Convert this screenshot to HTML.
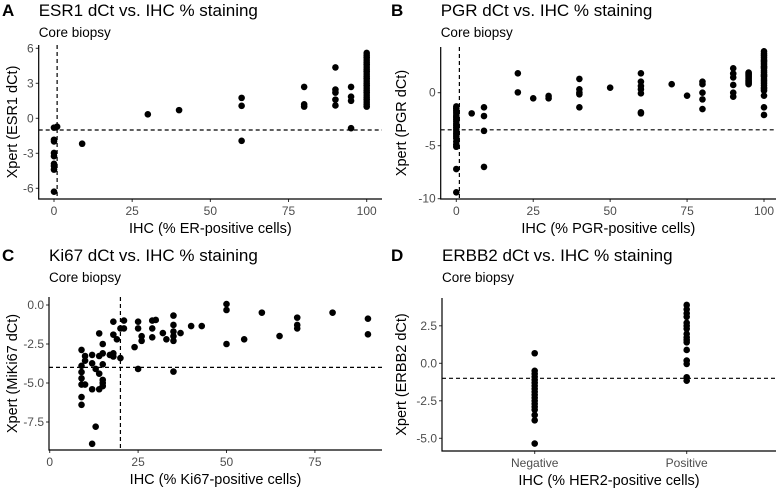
<!DOCTYPE html>
<html><head><meta charset="utf-8"><style>
html,body{margin:0;padding:0;background:#fff;}
svg{display:block;font-family:"Liberation Sans",Arial,sans-serif;}
</style></head><body>
<svg id="chart" width="778" height="490" viewBox="0 0 778 490"></svg>
<script>
// ---- Panel A data (ESR1) ----
const aX = [0,0,0,0,0,0,0,0,0,1,9,30,40,60,60,60,80,80,80,90,90,90,90,90,95,95,95,95,
  100,100,100,100,100,100,100,100,100,100,100,100,100,100,100,100,100,100,100,100,100,100,100,100];
const aY = [-0.8,-1.84,-1.98,-2.97,-3.25,-3.9,-4.1,-4.4,-6.29,-0.72,-2.18,0.34,0.7,1.75,1.07,-1.93,2.69,1.2,1.0,4.36,2.46,2.2,1.6,1.1,2.69,1.85,1.5,-0.85,
  5.6,5.4,5.2,5.0,4.8,4.6,4.4,4.2,4.0,3.8,3.6,3.4,3.2,3.0,2.8,2.6,2.4,2.2,2.0,1.8,1.6,1.4,1.2,1.0];
const aXTicks = [0,25,50,75,100];
const aYTicks = [-6,-3,0,3,6];
// ---- Panel B data (PGR) ----
const bX = [0,0,0,0,0,0,0,0,0,0,0,0,0,0,0,0,0,0,0,0,0,5,9,9,9,9,20,20,25,30,30,40,40,40,40,40,50,60,60,60,60,60,60,60,70,75,80,80,80,80,80,90,90,90,90,90,90,
  95,95,95,95,95,95,95,95,95,95,95,95,
  100,100,100,100,100,100,100,100,100,100,100,100,100,100,100,100,100,100,100,100,100,100,100,100,100,100];
const bY = [-1.3,-1.5,-1.7,-1.9,-2.1,-2.3,-2.5,-2.7,-2.9,-3.1,-3.3,-3.5,-3.7,-3.9,-4.1,-4.3,-4.6,-4.9,-5.1,-7.2,-9.4,-1.95,-1.38,-2.2,-3.6,-7.0,1.83,0.03,-0.53,-0.31,-0.53,1.3,0.32,0.0,-0.15,-1.38,0.47,1.83,1.04,0.63,0.32,-0.06,-1.85,-1.95,0.8,-0.28,1.04,0.8,0.0,-0.63,-1.54,2.3,1.8,1.44,0.73,0.0,-0.38,
  1.9,1.8,1.7,1.6,1.5,1.4,1.3,1.2,1.1,1.0,0.9,0.8,
  3.9,3.7,3.5,3.3,3.1,2.9,2.7,2.5,2.3,2.1,1.9,1.7,1.5,1.3,1.1,0.9,0.7,0.5,0.4,0.2,-0.28,-1.38,-2.1,3.0,2.4,1.6];
const bXTicks = [0,25,50,75,100];
const bYTicks = [-10,-5,0];
// ---- Panel C data (Ki67) ----
const cX = [9,9,9,9,9,9,9,10,10,10,12,12,12,13,13,12,14,14,14,14,15,15,15,15,15,15,17,18,18,18,18,19,20,20,21,21,24,25,25,25,26,26,29,29,29,30,32,33,35,35,35,35,35,35,37,40,43,50,50,50,55,60,65,70,70,70,80,90,90];
const cY = [-2.88,-3.9,-4.3,-4.7,-5.1,-5.9,-6.4,-3.27,-3.57,-5.1,-3.2,-3.74,-5.4,-4.1,-7.8,-8.9,-1.82,-3.27,-4.4,-5.4,-2.5,-3.1,-3.8,-4.8,-5.0,-5.2,-3.2,-1.07,-1.9,-3.1,-3.3,-2.2,-1.5,-3.4,-1.5,-1.0,-2.7,-1.07,-1.5,-4.1,-2.0,-2.3,-1.0,-1.5,-2.07,-0.96,-1.8,-2.2,-0.68,-1.28,-1.7,-2.0,-2.3,-4.27,-1.8,-1.35,-1.35,0.06,-0.32,-2.5,-2.2,-0.49,-1.99,-0.81,-1.28,-1.5,-0.49,-0.88,-1.88];
const cXTicks = [0,25,50,75];
const cYTicks = [-7.5,-5.0,-2.5,0.0];
// ---- Panel D data (ERBB2) ----
const dCats = ["Negative","Positive"];
const dX = ["Negative","Negative","Negative","Negative","Negative","Negative","Negative","Negative","Negative","Negative","Negative","Negative","Negative","Negative","Negative","Negative","Negative","Negative",
  "Positive","Positive","Positive","Positive","Positive","Positive","Positive","Positive","Positive","Positive","Positive","Positive","Positive","Positive","Positive","Positive"];
const dY = [0.67,-0.5,-0.7,-0.9,-1.1,-1.3,-1.5,-1.7,-1.9,-2.1,-2.3,-2.5,-2.7,-2.9,-3.1,-3.45,-3.8,-5.35,
  3.89,3.6,3.33,3.1,2.7,2.5,2.3,1.96,1.73,1.55,1.4,0.89,0.18,-0.04,-0.93,-1.16];
const dYTicks = [-5.0,-2.5,0.0,2.5];

const NS = "http://www.w3.org/2000/svg";
const svg = document.getElementById("chart");
function mk(tag, attrs, parent){ const e=document.createElementNS(NS,tag); for(const k in attrs) e.setAttribute(k,attrs[k]); (parent||svg).appendChild(e); return e; }
function lin(d0,d1,r0,r1){ return v => r0 + (v-d0)*(r1-r0)/(d1-d0); }

function panel(p){
  const g = mk("g",{});
  
  
  const lab = mk("text",{x:p.ox+2,y:p.oy+16,"font-size":"17","font-weight":"bold",fill:"#000"},g);
  lab.textContent=p.letter;
  
  
  const t = mk("text",{x:p.L,y:p.oy+16,"font-size":"17",fill:"#000"},g);
  t.textContent=p.title;
  
  
  const st = mk("text",{x:p.L,y:p.oy+37,"font-size":"13.5",fill:"#000"},g);
  st.textContent="Core biopsy";
  
  
  p.yTicks.forEach(v=>{
    const y=p.sy(v);
    const tk=mk("line",{x1:p.L-3,x2:p.L,y1:y,y2:y,stroke:"#333","stroke-width":1},g);
    
    
    const tl=mk("text",{x:p.L-5,y:y+4,"font-size":"12","text-anchor":"end",fill:"#4d4d4d"},g);
    tl.textContent = p.yFmt(v);
    
    
  });
  p.xTicks.forEach(v=>{
    const x=p.sx(v);
    const tk=mk("line",{x1:x,x2:x,y1:p.B,y2:p.B+3,stroke:"#333","stroke-width":1},g);
    
    
    const tl=mk("text",{x:x,y:p.B+16,"font-size":"12","text-anchor":"middle",fill:"#4d4d4d"},g);
    tl.textContent = String(v);
    
    
  });
  if(p.vline!==undefined){
    const vl=mk("line",{x1:p.sx(p.vline),x2:p.sx(p.vline),y1:p.T,y2:p.B,stroke:"#000","stroke-width":1.2,"stroke-dasharray":"4,3"},g);
    
    
  }
  const hl=mk("line",{x1:p.L,x2:p.R,y1:p.sy(p.hline),y2:p.sy(p.hline),stroke:"#000","stroke-width":1.2,"stroke-dasharray":"4,3"},g);
  
  
  const n=Math.min(p.xs.length,p.ys.length);
  for(let i=0;i<n;i++){
    const c=mk("circle",{cx:p.sx(p.xs[i]),cy:p.sy(p.ys[i]),r:3.3,fill:"#000"},g);
    
    
  }
  const ax=mk("path",{d:`M${p.L},${p.T}V${p.B}H${p.R}`,fill:"none",stroke:"#000","stroke-width":1.2},g);
  
  
  const xt=mk("text",{x:(p.L+p.R)/2,y:p.B+34,"font-size":"14.5","text-anchor":"middle",fill:"#000"},g);
  xt.textContent=p.xTitle;
  
  
  const yc=(p.T+p.B)/2, yx=p.ox+17;
  const yt=mk("text",{x:yx,y:yc,"font-size":"14.5","text-anchor":"middle",fill:"#000",transform:`rotate(-90 ${yx} ${yc})`},g);
  yt.textContent=p.yTitle;
  
  
}

const fmtInt = v => String(v);
const fmt1 = v => v.toFixed(1);

panel({id:"panel-esr1",letter:"A",ox:0,oy:0,title:"ESR1 dCt vs. IHC % staining",L:38.7,R:382,T:45,B:199,
  sx:lin(0,100,54,366.7), sy:lin(0,6,118.3,48.3), xs:aX, ys:aY, xTicks:aXTicks, yTicks:aYTicks, yFmt:fmtInt,
  vline:1, hline:-1, xTitle:"IHC (% ER-positive cells)", yTitle:"Xpert (ESR1 dCt)"});
panel({id:"panel-pgr",letter:"B",ox:389,oy:0,title:"PGR dCt vs. IHC % staining",L:440.7,R:776,T:47,B:199,
  sx:lin(0,100,456.3,764), sy:lin(0,-5,92.7,145.7), xs:bX, ys:bY, xTicks:bXTicks, yTicks:bYTicks, yFmt:fmtInt,
  vline:1, hline:-3.5, xTitle:"IHC (% PGR-positive cells)", yTitle:"Xpert (PGR dCt)"});
panel({id:"panel-ki67",letter:"C",ox:0,oy:245,title:"Ki67 dCt vs. IHC % staining",L:49,R:382,T:297,B:450,
  sx:lin(0,25,49.7,138.1), sy:lin(0,-2.5,305,344), xs:cX, ys:cY, xTicks:cXTicks, yTicks:cYTicks, yFmt:fmt1,
  vline:20, hline:-4, xTitle:"IHC (% Ki67-positive cells)", yTitle:"Xpert (MiKi67 dCt)"});

const dPos = {Negative:534.7, Positive:686.7};
panel({id:"panel-erbb2",letter:"D",ox:389,oy:245,title:"ERBB2 dCt vs. IHC % staining",L:442,R:776,T:298,B:451,
  sx:c=>dPos[c], sy:lin(0,2.5,363.3,325.8), xs:dX, ys:dY, xTicks:dCats, yTicks:dYTicks, yFmt:fmt1,
  hline:-1, xTitle:"IHC (% HER2-positive cells)", yTitle:"Xpert (ERBB2 dCt)"});
</script>
</body></html>
